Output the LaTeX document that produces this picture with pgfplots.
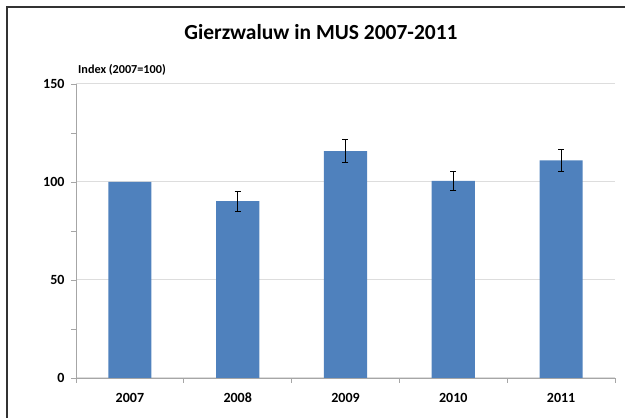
\documentclass[border=0pt]{standalone}
\usepackage{pgfplots}
\pgfplotsset{compat=1.18}
\usepackage{fontspec}
\setmainfont{Carlito}
\definecolor{barblue}{HTML}{4F81BD}
\definecolor{axisgray}{HTML}{A6A6A6}
\definecolor{gridgray}{HTML}{DDDDDD}
\begin{document}
\begin{tikzpicture}[x=1pt,y=1pt]
\useasboundingbox (0,0) rectangle (625,418);
\draw[line width=2.5pt, color=black!80] (7,-5) -- (7,411) -- (630,411);
\node[font=\bfseries\fontsize{21.5}{21.5}\selectfont, anchor=center] at (321,386) {Gierzwaluw in MUS 2007-2011};
\node[font=\bfseries\fontsize{12.2}{12.2}\selectfont, anchor=west, inner sep=0pt] at (78,348) {Index (2007=100)};
\begin{axis}[
  at={(76pt,40pt)}, anchor=south west,
  scale only axis, width=539pt, height=294pt,
  xmin=-0.5, xmax=4.5, ymin=0, ymax=150,
  xtick={0,1,2,3,4}, xticklabels={2007,2008,2009,2010,2011},
  minor xtick={-0.5,0.5,1.5,2.5,3.5,4.5},
  ytick={0,50,100,150}, minor ytick={25,75,125},
  axis x line*=bottom, axis y line*=left,
  axis line style={axisgray, line width=0.8pt, -},
  tick align=outside,
  major x tick style={draw=none},
  major tick length=5pt, minor tick length=5pt,
  every tick/.style={axisgray, line width=0.8pt},
  ymajorgrids, grid style={gridgray, line width=1pt},
  /pgf/number format/assume math mode=true,
  tick label style={font=\bfseries\fontsize{14}{14}\selectfont},
  yticklabel style={/pgf/number format/fixed, xshift=-3pt},
  xticklabel style={yshift=-6pt, text height=10pt, text depth=0pt},
  scaled y ticks=false,
  ]
\addplot[ybar, bar width=0.4, fill=barblue, draw=none]
  coordinates {
  (0,100)
  (1,90.3)
  (2,115.8)
  (3,100.6)
  (4,111)
  };
\addplot[draw=none, mark=none, forget plot,
  error bars/.cd, y dir=both, y explicit,
  error bar style={black, line width=1pt},
  error mark options={rotate=90, mark size=3pt, black, line width=1pt}]
  coordinates {
  (1,90.3) +- (0,5.1)
  (2,115.8) +- (0,5.7)
  (3,100.6) +- (0,4.9)
  (4,111) +- (0,5.6)
  };
\end{axis}
\end{tikzpicture}
\end{document}
